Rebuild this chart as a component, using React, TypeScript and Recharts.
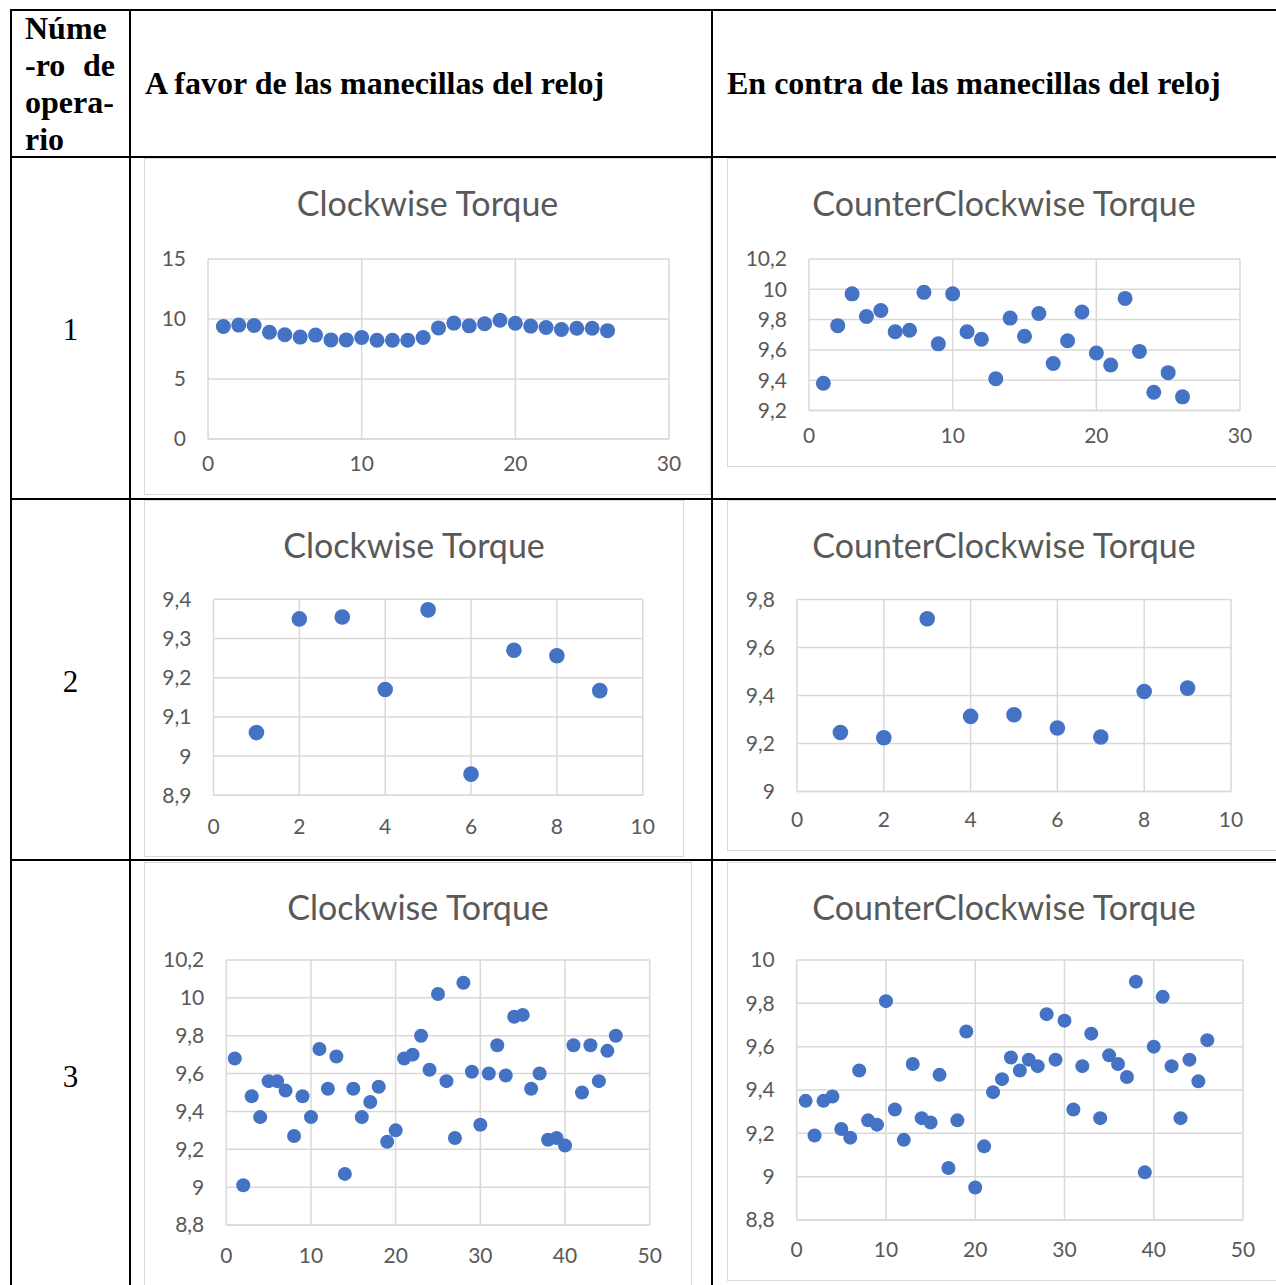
import React from 'react';
import { ScatterChart, Scatter, XAxis, YAxis, CartesianGrid } from 'recharts';

// torque readings per operator, one value per sample (x = sample number)
const cwOperator1 = [
  9.38, 9.49, 9.46, 8.89, 8.69, 8.49, 8.66, 8.26, 8.26, 8.46, 8.23, 8.23, 8.23,
  8.46, 9.26, 9.66, 9.43, 9.61, 9.89, 9.64, 9.41, 9.29, 9.12, 9.23, 9.23, 9.03,
];
const ccwOperator1 = [
  9.38, 9.76, 9.97, 9.82, 9.86, 9.72, 9.73, 9.98, 9.64, 9.97, 9.72, 9.67, 9.41,
  9.81, 9.69, 9.84, 9.51, 9.66, 9.85, 9.58, 9.5, 9.94, 9.59, 9.32, 9.45, 9.29,
];
const cwOperator2 = [9.06, 9.35, 9.355, 9.17, 9.373, 8.954, 9.27, 9.256, 9.167];
const ccwOperator2 = [9.246, 9.224, 9.72, 9.313, 9.32, 9.265, 9.227, 9.417, 9.431];
const cwOperator3 = [
  9.68, 9.01, 9.48, 9.37, 9.56, 9.56, 9.51, 9.27, 9.48, 9.37, 9.73, 9.52, 9.69,
  9.07, 9.52, 9.37, 9.45, 9.53, 9.24, 9.3, 9.68, 9.7, 9.8, 9.62, 10.02, 9.56,
  9.26, 10.08, 9.61, 9.33, 9.6, 9.75, 9.59, 9.9, 9.91, 9.52, 9.6, 9.25, 9.26,
  9.22, 9.75, 9.5, 9.75, 9.56, 9.72, 9.8,
];
const ccwOperator3 = [
  9.35, 9.19, 9.35, 9.37, 9.22, 9.18, 9.49, 9.26, 9.24, 9.81, 9.31, 9.17, 9.52,
  9.27, 9.25, 9.47, 9.04, 9.26, 9.67, 8.95, 9.14, 9.39, 9.45, 9.55, 9.49, 9.54,
  9.51, 9.75, 9.54, 9.72, 9.31, 9.51, 9.66, 9.27, 9.56, 9.52, 9.46, 9.9, 9.02,
  9.6, 9.83, 9.51, 9.27, 9.54, 9.44, 9.63,
];

const xTicks30 = [0, 10, 20, 30];
const xTicks10 = [0, 2, 4, 6, 8, 10];
const xTicks50 = [0, 10, 20, 30, 40, 50];
const yTicksCw1 = [0, 5, 10, 15];
const yTicksCcw1 = [9.2, 9.4, 9.6, 9.8, 10, 10.2];
const yTicksCw2 = [8.9, 9, 9.1, 9.2, 9.3, 9.4];
const yTicksCcw2 = [9, 9.2, 9.4, 9.6, 9.8];
const yTicksCw3 = [8.8, 9, 9.2, 9.4, 9.6, 9.8, 10, 10.2];
const yTicksCcw3 = [8.8, 9, 9.2, 9.4, 9.6, 9.8, 10];

const DOT = '#4472C4';
const GRID = '#d9d9d9';
const TEXT = '#595959';
const FONT = 'Lato, "Open Sans", sans-serif';
const SERIF = '"Liberation Serif", "Times New Roman", serif';
const TICK_SIZE = 21;

const fmt = (v: number) => String(Math.round(v * 10) / 10).replace('.', ',');

interface PanelProps {
  title: string;
  values: number[];
  xTicks: number[];
  yTicks: number[];
  box: [number, number, number, number]; // left, top, right, bottom of frame
  plot: [number, number, number, number]; // left, top, right, bottom of plot area
  r: number;
  xLabelGap: number;
}

const Panel = ({ title, values, xTicks, yTicks, box, plot, r, xLabelGap }: PanelProps) => {
  const [l, t, rt, b] = box;
  const [pl, pt, pr, pb] = plot;
  const width = rt - l;
  const height = b - t;
  const data = values.map((y, i) => ({ x: i + 1, y }));
  return (
    <div style={{ position: 'absolute', left: l, top: t, width, height }}>
      <div
        style={{
          position: 'absolute', left: 0, top: 0, width, height,
          boxSizing: 'border-box', border: `1.5px solid ${GRID}`,
        }}
      />
      <div
        style={{
          position: 'absolute', left: 0, top: 26, width, textAlign: 'center',
          fontFamily: FONT, fontSize: 34, lineHeight: '38px', color: TEXT,
        }}
      >
        {title}
      </div>
      <div style={{ position: 'absolute', left: 0, top: 0 }}>
        <ScatterChart
          width={width}
          height={height}
          margin={{ top: pt - t, right: rt - pr, bottom: 0, left: 0 }}
        >
          <CartesianGrid stroke={GRID} strokeWidth={1.5} />
          <XAxis
            type="number"
            dataKey="x"
            domain={[xTicks[0], xTicks[xTicks.length - 1]]}
            ticks={xTicks}
            interval={0}
            height={b - pb}
            axisLine={{ stroke: GRID, strokeWidth: 1.5 }}
            tickLine={false}
            tickSize={0}
            tickMargin={xLabelGap}
            tick={{ fill: TEXT, fontSize: TICK_SIZE, fontFamily: FONT }}
          />
          <YAxis
            type="number"
            dataKey="y"
            domain={[yTicks[0], yTicks[yTicks.length - 1]]}
            ticks={yTicks}
            interval={0}
            width={pl - l}
            axisLine={false}
            tickLine={false}
            tickSize={0}
            tickMargin={22}
            tickFormatter={fmt}
            tick={{ fill: TEXT, fontSize: TICK_SIZE, fontFamily: FONT }}
          />
          <Scatter
            data={data}
            isAnimationActive={false}
            shape={(p: any) => <circle cx={p.cx} cy={p.cy} r={r} fill={DOT} />}
          />
        </ScatterChart>
      </div>
    </div>
  );
};

const Line = ({ x, y, w, h }: { x: number; y: number; w: number; h: number }) => (
  <div style={{ position: 'absolute', left: x, top: y, width: w, height: h, background: '#000' }} />
);

const headText: React.CSSProperties = {
  position: 'absolute', fontFamily: SERIF, fontWeight: 'bold', fontSize: 32,
  lineHeight: '37px', color: '#000', whiteSpace: 'nowrap',
};

export default function App() {
  return (
    <div
      style={{
        position: 'absolute', left: 0, top: 0, width: 1276, height: 1285,
        overflow: 'hidden', background: '#fff',
      }}
    >
      {/* table rules */}
      <Line x={10} y={9} w={1280} h={2} />
      <Line x={10} y={156} w={1280} h={2} />
      <Line x={10} y={498} w={1280} h={2} />
      <Line x={10} y={859} w={1280} h={2} />
      <Line x={10} y={9} w={2} h={1290} />
      <Line x={129} y={9} w={2} h={1290} />
      <Line x={711} y={9} w={2} h={1290} />

      {/* header */}
      <div style={{ ...headText, left: 25, top: 10 }}>Núme</div>
      <div style={{ ...headText, left: 25, top: 47, width: 90, display: 'flex', justifyContent: 'space-between' }}>
        <span>-ro</span>
        <span>de</span>
      </div>
      <div style={{ ...headText, left: 25, top: 84 }}>opera-</div>
      <div style={{ ...headText, left: 25, top: 121 }}>rio</div>
      <div style={{ ...headText, left: 145, top: 65 }}>A favor de las manecillas del reloj</div>
      <div style={{ ...headText, left: 727, top: 65 }}>En contra de las manecillas del reloj</div>

      {/* operator numbers */}
      {['1', '2', '3'].map((n, i) => (
        <div
          key={n}
          style={{
            position: 'absolute', left: 12, width: 117, textAlign: 'center',
            top: [311, 663, 1058][i], fontFamily: SERIF, fontSize: 31, lineHeight: '37px',
          }}
        >
          {n}
        </div>
      ))}

      <Panel
        title="Clockwise Torque"
        values={cwOperator1}
        xTicks={xTicks30}
        yTicks={yTicksCw1}
        box={[144, 158, 711, 495]}
        plot={[208, 259, 669, 439]}
        r={7.5}
        xLabelGap={17.5}
      />
      <Panel
        title="CounterClockwise Torque"
        values={ccwOperator1}
        xTicks={xTicks30}
        yTicks={yTicksCcw1}
        box={[727, 158, 1281, 467]}
        plot={[809, 259, 1240, 410.5]}
        r={7.5}
        xLabelGap={18}
      />
      <Panel
        title="Clockwise Torque"
        values={cwOperator2}
        xTicks={xTicks10}
        yTicks={yTicksCw2}
        box={[144, 500, 684, 857]}
        plot={[213.5, 599.3, 642.7, 795.3]}
        r={7.8}
        xLabelGap={23.5}
      />
      <Panel
        title="CounterClockwise Torque"
        values={ccwOperator2}
        xTicks={xTicks10}
        yTicks={yTicksCcw2}
        box={[727, 500, 1281, 851]}
        plot={[797, 599.6, 1231, 791.5]}
        r={7.8}
        xLabelGap={21}
      />
      <Panel
        title="Clockwise Torque"
        values={cwOperator3}
        xTicks={xTicks50}
        yTicks={yTicksCw3}
        box={[144, 862, 692, 1292]}
        plot={[226.3, 960, 649.7, 1225]}
        r={7}
        xLabelGap={23.5}
      />
      <Panel
        title="CounterClockwise Torque"
        values={ccwOperator3}
        xTicks={xTicks50}
        yTicks={yTicksCcw3}
        box={[727, 862, 1281, 1281]}
        plot={[796.7, 960, 1243, 1220]}
        r={7}
        xLabelGap={22.5}
      />
    </div>
  );
}
